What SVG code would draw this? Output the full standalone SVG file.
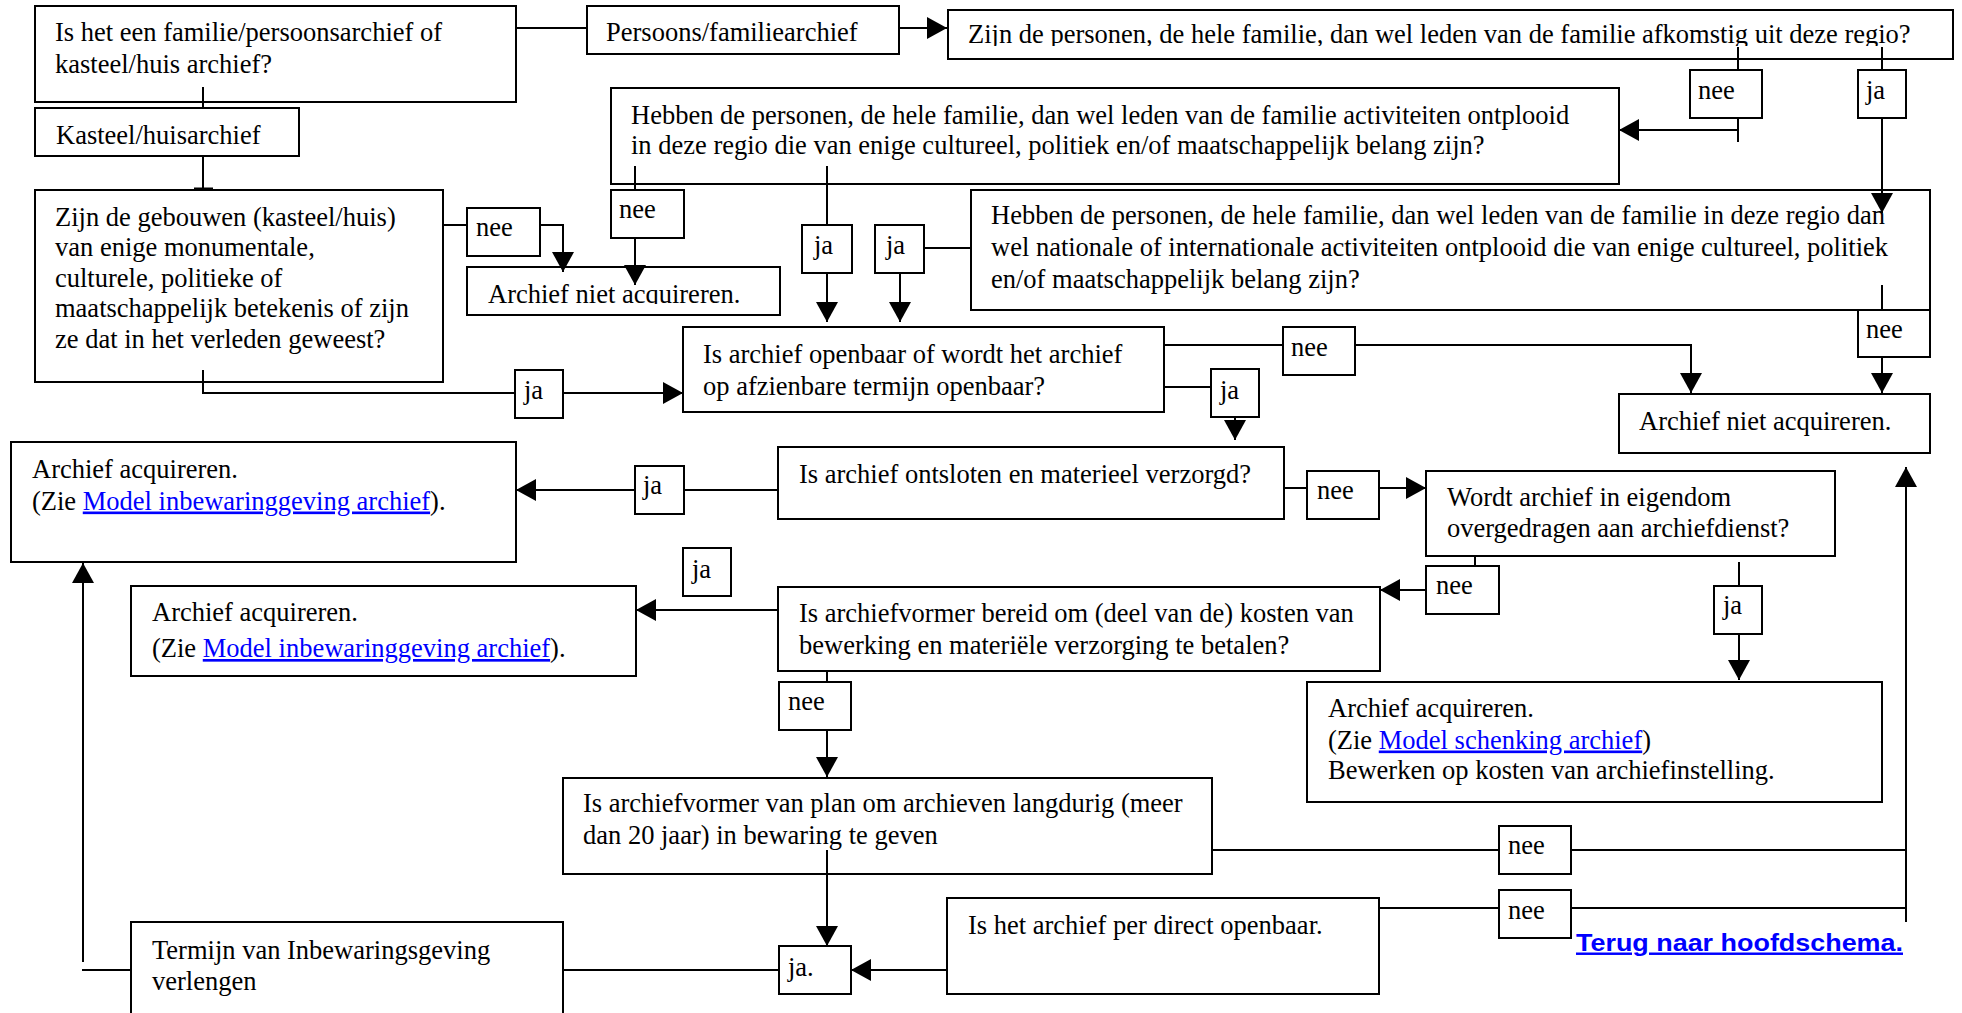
<svg xmlns="http://www.w3.org/2000/svg" width="1962" height="1013" viewBox="0 0 1962 1013">
  <style>
    .box { fill: #fff; stroke: #000; stroke-width: 2; }
    .t { font-family: "Liberation Serif", "Times New Roman", serif; font-size: 26.5px; fill: #000; }
    .lnk { fill: #0000ff; text-decoration: underline; }
    .back { font-family: "Liberation Sans", Arial, sans-serif; font-weight: bold; font-size: 24.5px; fill: #0000ff; text-decoration: underline; }
    .wire { fill: none; stroke: #000; stroke-width: 2; }
    .arr { fill: none; stroke: #000; stroke-width: 2; marker-end: url(#head); }
  </style>
  <defs>
    <marker id="head" markerUnits="userSpaceOnUse" markerWidth="20" markerHeight="22" refX="20" refY="11" orient="auto">
      <path d="M0,0 L20,11 L0,22 z" fill="#000"/>
    </marker>
    <clipPath id="clipOrigin"><rect x="950" y="12" width="1000" height="34"/></clipPath>
    <clipPath id="clipNiet1"><rect x="469" y="269" width="309" height="35"/></clipPath>
  </defs>

  <rect width="1962" height="1013" fill="#fff"/>

  <!-- nodes -->
  <g id="q-soort">
    <rect class="box" x="35" y="6" width="481" height="96"/>
    <text class="t" x="55" y="41">Is het een familie/persoonsarchief of</text>
    <text class="t" x="55" y="73">kasteel/huis archief?</text>
  </g>
  <g id="persoonsarchief">
    <rect class="box" x="587" y="6" width="312" height="48"/>
    <text class="t" x="606" y="41">Persoons/familiearchief</text>
  </g>
  <g id="q-afkomst">
    <rect class="box" x="948" y="10" width="1005" height="49"/>
    <text class="t" x="968" y="42.5" clip-path="url(#clipOrigin)">Zijn de personen, de hele familie, dan wel leden van de familie afkomstig uit deze regio?</text>
  </g>
  <g id="kasteelarchief">
    <rect class="box" x="35" y="108" width="264" height="48"/>
    <text class="t" x="56" y="143.5">Kasteel/huisarchief</text>
  </g>
  <g id="q-regio-activiteit">
    <rect class="box" x="611" y="88" width="1008" height="96"/>
    <text class="t" x="631" y="123.5">Hebben de personen, de hele familie, dan wel leden van de familie activiteiten ontplooid</text>
    <text class="t" x="631" y="154">in deze regio die van enige cultureel, politiek en/of maatschappelijk belang zijn?</text>
  </g>
  <g id="q-gebouwen">
    <rect class="box" x="35" y="190" width="408" height="192"/>
    <text class="t" x="55" y="225.5">Zijn de gebouwen (kasteel/huis)</text>
    <text class="t" x="55" y="256">van enige monumentale,</text>
    <text class="t" x="55" y="286.5">culturele, politieke of</text>
    <text class="t" x="55" y="317">maatschappelijk betekenis of zijn</text>
    <text class="t" x="55" y="347.5">ze dat in het verleden geweest?</text>
  </g>
  <g id="lbl-nee-gebouwen">
    <rect class="box" x="467" y="208" width="73" height="48"/>
    <text class="t" x="476" y="236">nee</text>
  </g>
  <g id="niet-acquireren-1">
    <rect class="box" x="467" y="267" width="313" height="48"/>
    <text class="t" x="488" y="302.5" clip-path="url(#clipNiet1)">Archief niet acquireren.</text>
  </g>
  <g id="lbl-nee-regio">
    <rect class="box" x="611" y="190" width="73" height="48"/>
    <text class="t" x="619" y="218">nee</text>
  </g>
  <g id="lbl-ja-regio">
    <rect class="box" x="802" y="225" width="50" height="48"/>
    <text class="t" x="814" y="254">ja</text>
  </g>
  <g id="lbl-ja-nationaal">
    <rect class="box" x="875" y="225" width="49" height="48"/>
    <text class="t" x="886" y="254">ja</text>
  </g>
  <g id="q-nationaal">
    <rect class="box" x="971" y="190" width="959" height="120"/>
    <text class="t" x="991" y="223.5">Hebben de personen, de hele familie, dan wel leden van de familie in deze regio dan</text>
    <text class="t" x="991" y="255.5">wel nationale of internationale activiteiten ontplooid die van enige cultureel, politiek</text>
    <text class="t" x="991" y="287.5">en/of maatschappelijk belang zijn?</text>
  </g>
  <g id="lbl-nee-afkomst">
    <rect class="box" x="1690" y="70" width="72" height="48"/>
    <text class="t" x="1698" y="99">nee</text>
  </g>
  <g id="lbl-ja-afkomst">
    <rect class="box" x="1858" y="70" width="48" height="48"/>
    <text class="t" x="1866" y="99">ja</text>
  </g>
  <g id="lbl-nee-nationaal">
    <rect class="box" x="1858" y="310" width="72" height="47"/>
    <text class="t" x="1866" y="338">nee</text>
  </g>
  <g id="q-openbaar">
    <rect class="box" x="683" y="327" width="481" height="85"/>
    <text class="t" x="703" y="363">Is archief openbaar of wordt het archief</text>
    <text class="t" x="703" y="394.5">op afzienbare termijn openbaar?</text>
  </g>
  <g id="lbl-nee-openbaar">
    <rect class="box" x="1283" y="327" width="72" height="48"/>
    <text class="t" x="1291" y="356">nee</text>
  </g>
  <g id="lbl-ja-gebouwen">
    <rect class="box" x="515" y="370" width="48" height="48"/>
    <text class="t" x="524" y="399">ja</text>
  </g>
  <g id="lbl-ja-openbaar">
    <rect class="box" x="1211" y="369" width="48" height="48"/>
    <text class="t" x="1220" y="399">ja</text>
  </g>
  <g id="niet-acquireren-2">
    <rect class="box" x="1619" y="394" width="311" height="59"/>
    <text class="t" x="1639" y="430">Archief niet acquireren.</text>
  </g>
  <g id="acquireren-1">
    <rect class="box" x="11" y="442" width="505" height="120"/>
    <text class="t" x="32" y="478">Archief acquireren.</text>
    <text class="t" x="32" y="509.5">(Zie <tspan class="lnk">Model inbewaringgeving archief</tspan>).</text>
  </g>
  <g id="q-ontsloten">
    <rect class="box" x="778" y="447" width="506" height="72"/>
    <text class="t" x="799" y="482.5">Is archief ontsloten en materieel verzorgd?</text>
  </g>
  <g id="lbl-ja-ontsloten">
    <rect class="box" x="635" y="466" width="49" height="48"/>
    <text class="t" x="643" y="494">ja</text>
  </g>
  <g id="lbl-nee-ontsloten">
    <rect class="box" x="1307" y="471" width="72" height="48"/>
    <text class="t" x="1317" y="499">nee</text>
  </g>
  <g id="q-eigendom">
    <rect class="box" x="1426" y="471" width="409" height="85"/>
    <text class="t" x="1447" y="506">Wordt archief in eigendom</text>
    <text class="t" x="1447" y="537">overgedragen aan archiefdienst?</text>
  </g>
  <g id="lbl-ja-kosten">
    <rect class="box" x="683" y="548" width="48" height="48"/>
    <text class="t" x="692" y="578">ja</text>
  </g>
  <g id="lbl-nee-eigendom">
    <rect class="box" x="1426" y="566" width="73" height="48"/>
    <text class="t" x="1436" y="594">nee</text>
  </g>
  <g id="lbl-ja-eigendom">
    <rect class="box" x="1714" y="586" width="48" height="48"/>
    <text class="t" x="1723" y="614">ja</text>
  </g>
  <g id="acquireren-2">
    <rect class="box" x="131" y="586" width="505" height="90"/>
    <text class="t" x="152" y="621">Archief acquireren.</text>
    <text class="t" x="152" y="657">(Zie <tspan class="lnk">Model inbewaringgeving archief</tspan>).</text>
  </g>
  <g id="q-kosten">
    <rect class="box" x="778" y="587" width="602" height="84"/>
    <text class="t" x="799" y="621.5">Is archiefvormer bereid om (deel van de) kosten van</text>
    <text class="t" x="799" y="654">bewerking en materiële verzorging te betalen?</text>
  </g>
  <g id="acquireren-schenking">
    <rect class="box" x="1307" y="682" width="575" height="120"/>
    <text class="t" x="1328" y="716.5">Archief acquireren.</text>
    <text class="t" x="1328" y="748.5">(Zie <tspan class="lnk">Model schenking archief</tspan>)</text>
    <text class="t" x="1328" y="779">Bewerken op kosten van archiefinstelling.</text>
  </g>
  <g id="lbl-nee-kosten">
    <rect class="box" x="779" y="682" width="72" height="48"/>
    <text class="t" x="788" y="710">nee</text>
  </g>
  <g id="q-langdurig">
    <rect class="box" x="563" y="778" width="649" height="96"/>
    <text class="t" x="583" y="812">Is archiefvormer van plan om archieven langdurig (meer</text>
    <text class="t" x="583" y="844">dan 20 jaar) in bewaring te geven</text>
  </g>
  <g id="lbl-nee-langdurig">
    <rect class="box" x="1499" y="826" width="72" height="48"/>
    <text class="t" x="1508" y="854">nee</text>
  </g>
  <g id="lbl-nee-direct">
    <rect class="box" x="1499" y="890" width="72" height="48"/>
    <text class="t" x="1508" y="919">nee</text>
  </g>
  <g id="q-direct-openbaar">
    <rect class="box" x="947" y="898" width="432" height="96"/>
    <text class="t" x="968" y="934">Is het archief per direct openbaar.</text>
  </g>
  <g id="termijn-verlengen">
    <rect class="box" x="131" y="922" width="432" height="100"/>
    <text class="t" x="152" y="958.5">Termijn van Inbewaringsgeving</text>
    <text class="t" x="152" y="990">verlengen</text>
  </g>
  <g id="lbl-ja-punt">
    <rect class="box" x="779" y="946" width="72" height="48"/>
    <text class="t" x="788" y="976">ja.</text>
  </g>
  <g id="terug">
    <text class="back" x="1576" y="950.5" textLength="327" lengthAdjust="spacingAndGlyphs">Terug naar hoofdschema.</text>
  </g>

  <!-- connectors, drawn over the boxes: several start inside a box -->
  <g id="connectors">
    <path class="wire" d="M516,28 H587"/>
    <path class="arr" d="M899,28 H947"/>
    <path class="wire" d="M203,87 V108"/>
    <path class="wire" d="M203,156 V190"/>
    <path class="wire" d="M194,189 H213" style="stroke-width:3"/>
    <path class="wire" d="M443,225 H467"/>
    <path class="arr" d="M540,225 H563 V272"/>
    <path class="wire" d="M635,166 V190"/>
    <path class="arr" d="M635,238 V285"/>
    <path class="wire" d="M1738,47 V70"/>
    <path class="wire" d="M1738,118 V142"/>
    <path class="arr" d="M1738,130 H1619"/>
    <path class="wire" d="M1882,47 V70"/>
    <path class="arr" d="M1882,118 V213"/>
    <path class="wire" d="M827,166 V225"/>
    <path class="arr" d="M827,273 V322"/>
    <path class="wire" d="M971,248 H924"/>
    <path class="arr" d="M900,273 V322"/>
    <path class="wire" d="M1882,285 V310"/>
    <path class="arr" d="M1882,357 V393"/>
    <path class="wire" d="M1164,345 H1283"/>
    <path class="arr" d="M1355,345 H1691 V393"/>
    <path class="wire" d="M203,370 V393 H515"/>
    <path class="arr" d="M563,393 H683"/>
    <path class="wire" d="M1164,387 H1211"/>
    <path class="arr" d="M1235,417 V440"/>
    <path class="wire" d="M778,490 H684"/>
    <path class="arr" d="M635,490 H516"/>
    <path class="wire" d="M1284,488 H1307"/>
    <path class="arr" d="M1379,488 H1426"/>
    <path class="wire" d="M1475,556 V566"/>
    <path class="arr" d="M1426,590 H1380"/>
    <path class="wire" d="M1739,562 V586"/>
    <path class="arr" d="M1739,634 V680"/>
    <path class="arr" d="M778,610 H636"/>
    <path class="wire" d="M827,671 V682"/>
    <path class="arr" d="M827,730 V777"/>
    <path class="arr" d="M827,850 V946"/>
    <path class="arr" d="M947,970 H851"/>
    <path class="wire" d="M779,970 H563"/>
    <path class="wire" d="M131,970 H82"/>
    <path class="arr" d="M83,962 V563"/>
    <path class="wire" d="M1212,850 H1499"/>
    <path class="wire" d="M1571,850 H1906"/>
    <path class="wire" d="M1379,908 H1499"/>
    <path class="wire" d="M1571,908 H1906"/>
    <path class="arr" d="M1906,922 V467"/>
  </g>
</svg>
